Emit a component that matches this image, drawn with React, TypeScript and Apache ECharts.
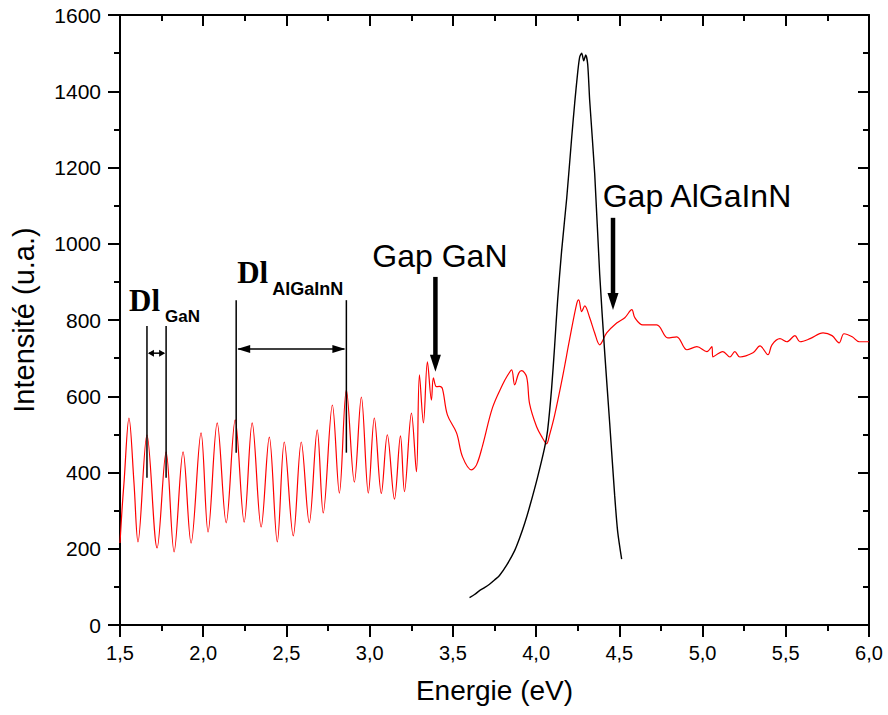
import React, { useEffect, useRef } from "react";
import * as echarts from "echarts";

// Red spectrum (reflectivity-like oscillations), energy in eV / intensity in u.a.
const redEnergy = [
  1.5, 1.512, 1.524, 1.554, 1.584, 1.608, 1.662, 1.723, 1.777, 1.825, 1.879, 1.927,
  1.987, 2.029, 2.084, 2.138, 2.192, 2.246, 2.294, 2.348, 2.397, 2.445, 2.487, 2.541,
  2.589, 2.637, 2.685, 2.721, 2.776, 2.818, 2.86, 2.908, 2.95, 2.992, 3.028, 3.07,
  3.106, 3.149, 3.185, 3.209, 3.251, 3.281, 3.299, 3.323, 3.347, 3.371, 3.383, 3.401,
  3.419, 3.437, 3.467, 3.522, 3.558, 3.612, 3.642, 3.678, 3.738, 3.798, 3.829, 3.853,
  3.871, 3.895, 3.913, 3.943, 3.961, 4.003, 4.039, 4.063, 4.081, 4.111, 4.159, 4.202,
  4.244, 4.256, 4.274, 4.292, 4.322, 4.352, 4.382, 4.424, 4.484, 4.533, 4.575, 4.593,
  4.641, 4.725, 4.791, 4.845, 4.906, 4.966, 5.026, 5.056, 5.062, 5.122, 5.164, 5.194,
  5.224, 5.303, 5.345, 5.393, 5.417, 5.465, 5.507, 5.555, 5.585, 5.646, 5.724, 5.778,
  5.82, 5.85, 5.899, 5.941, 6.0,
];
const redIntensity = [
  215, 302, 373, 543, 373, 218, 499, 202, 454, 192, 454, 215,
  504, 244, 530, 268, 538, 270, 530, 257, 493, 218, 480, 234,
  480, 268, 512, 294, 577, 346, 617, 375, 598, 346, 543, 345,
  499, 330, 496, 350, 556, 402, 656, 530, 690, 590, 648, 625,
  626, 620, 551, 504, 441, 407, 420, 470, 570, 630, 655, 669,
  630, 660, 667, 651, 580, 520, 490, 475, 499, 550, 651, 751,
  843, 853, 822, 837, 806, 766, 735, 766, 792, 806, 827, 806,
  787, 787, 753, 756, 722, 730, 717, 730, 703, 717, 703, 717,
  703, 714, 732, 709, 735, 751, 743, 759, 743, 751, 766, 759,
  740, 764, 756, 743, 743,
];

// Black spectrum (luminescence peak)
const blackEnergy = [
  3.6, 3.63, 3.66, 3.69, 3.72, 3.75, 3.78, 3.823, 3.871, 3.901, 3.931, 3.961, 4.009, 4.051, 4.069, 4.093,
  4.111, 4.129, 4.153, 4.184, 4.214, 4.232, 4.25, 4.262, 4.274, 4.286, 4.298, 4.31,
  4.322, 4.352, 4.382, 4.412, 4.442, 4.472, 4.49, 4.514,
];
const blackIntensity = [
  72, 80, 90, 98, 107, 118, 130, 157, 195, 228, 266, 310, 388, 465, 510, 620,
  730, 850, 980, 1120, 1280, 1370, 1450, 1490, 1500, 1480, 1495, 1470,
  1375, 1184, 920, 715, 530, 340, 245, 173,
];

// Annotation anchors (data space)
const gapArrows = [
  { e: 3.395, from: 913, to: 664 },
  { e: 4.462, from: 1068, to: 826 },
];
const gapLabels = [
  { text: "Gap GaN", e: 3.016, v: 969 },
  { text: "Gap AlGaInN", e: 4.4, v: 1125 },
];
const spacings = [
  { e1: 1.662, e2: 1.777, lo: 386, hi: 784, arrowV: 713, headLen: 6, headHalf: 3.5 },
  { e1: 2.198, e2: 2.86, lo: 452, hi: 852, arrowV: 724, headLen: 13, headHalf: 4 },
];
const spacingLabels = [
  { main: "Dl", sub: "GaN", e: 1.554, v: 850, se: 1.771, sv: 808, subSize: 17 },
  { main: "Dl", sub: "AlGaInN", e: 2.204, v: 925, se: 2.415, sv: 881, subSize: 18 },
];

const xTickLabel = (v: number) => v.toFixed(1).replace(".", ",");
const yTickLabel = (v: number) => String(Math.round(v));
const SANS = "Liberation Sans, Arial, Helvetica, sans-serif";

export default function App() {
  const ref = useRef<HTMLDivElement>(null);
  useEffect(() => {
    if (!ref.current) return;
    const chart = echarts.init(ref.current, undefined, { renderer: "svg" });
    const axisLine = { show: true, onZero: false, lineStyle: { color: "#000", width: 2 } };
    chart.setOption({
      animation: false,
      backgroundColor: "#fff",
      grid: { left: 120, right: 19, top: 15, bottom: 90, containLabel: false },
      xAxis: [
        {
          type: "value",
          min: 1.5,
          max: 6,
          interval: 0.5,
          position: "bottom",
          axisLine,
          axisTick: { show: true, inside: false, length: 12, lineStyle: { color: "#000", width: 2 } },
          minorTick: { show: true, splitNumber: 2, length: 6, lineStyle: { color: "#000", width: 2 } },
          splitLine: { show: false },
          axisLabel: {
            formatter: xTickLabel,
            color: "#000",
            fontSize: 20,
            fontFamily: SANS,
            margin: 18,
          },
          name: "Energie (eV)",
          nameLocation: "middle",
          nameGap: 51,
          nameTextStyle: { color: "#000", fontSize: 28, fontFamily: SANS },
        },
        {
          type: "value",
          min: 1.5,
          max: 6,
          interval: 0.5,
          position: "top",
          axisLine,
          axisTick: { show: true, inside: true, length: 11, lineStyle: { color: "#000", width: 2 } },
          minorTick: { show: true, splitNumber: 2, length: 6, lineStyle: { color: "#000", width: 2 } },
          splitLine: { show: false },
          axisLabel: { show: false },
        },
      ],
      yAxis: [
        {
          type: "value",
          min: 0,
          max: 1600,
          interval: 200,
          position: "left",
          axisLine,
          axisTick: { show: true, inside: false, length: 12, lineStyle: { color: "#000", width: 2 } },
          minorTick: { show: true, splitNumber: 2, length: 6, lineStyle: { color: "#000", width: 2 } },
          splitLine: { show: false },
          axisLabel: { formatter: yTickLabel, color: "#000", fontSize: 21, fontFamily: SANS, margin: 19 },
          name: "Intensité (u.a.)",
          nameLocation: "middle",
          nameGap: 82,
          nameTextStyle: { color: "#000", fontSize: 29, fontFamily: SANS },
        },
        {
          type: "value",
          min: 0,
          max: 1600,
          interval: 200,
          position: "right",
          axisLine,
          axisTick: { show: true, inside: true, length: 11, lineStyle: { color: "#000", width: 2 } },
          minorTick: { show: true, splitNumber: 2, length: 6, lineStyle: { color: "#000", width: 2 } },
          splitLine: { show: false },
          axisLabel: { show: false },
        },
      ],
      series: [
        {
          type: "line",
          name: "red",
          xAxisIndex: 0,
          yAxisIndex: 0,
          data: redEnergy.map((e, i) => [e, redIntensity[i]]),
          showSymbol: false,
          symbol: "none",
          smooth: 0.35,
          lineStyle: { color: "#ff0000", width: 1.2 },
          z: 3,
        },
        {
          type: "line",
          name: "black",
          xAxisIndex: 0,
          yAxisIndex: 0,
          data: blackEnergy.map((e, i) => [e, blackIntensity[i]]),
          showSymbol: false,
          symbol: "none",
          smooth: 0.25,
          lineStyle: { color: "#000", width: 1.4 },
          z: 4,
        },
      ],
    });

    const px = (e: number, v: number) =>
      chart.convertToPixel({ gridIndex: 0 }, [e, v]) as number[];

    const graphics: any[] = [];
    gapArrows.forEach((a) => {
      const top = px(a.e, a.from);
      const tip = px(a.e, a.to);
      graphics.push({
        type: "line",
        shape: { x1: top[0], y1: top[1], x2: tip[0], y2: tip[1] - 14 },
        style: { stroke: "#000", lineWidth: 4.5 },
        z: 100,
      });
      graphics.push({
        type: "polygon",
        shape: {
          points: [
            [tip[0] - 5.5, tip[1] - 17],
            [tip[0] + 5.5, tip[1] - 17],
            [tip[0], tip[1]],
          ],
        },
        style: { fill: "#000" },
        z: 100,
      });
    });
    gapLabels.forEach((l) => {
      const p = px(l.e, l.v);
      graphics.push({
        type: "text",
        x: p[0],
        y: p[1],
        style: {
          text: l.text,
          fontSize: 32,
          fontFamily: SANS,
          fill: "#000",
          align: "left",
          verticalAlign: "middle",
        },
        z: 100,
      });
    });
    spacings.forEach((s) => {
      const a1 = px(s.e1, s.lo);
      const b1 = px(s.e1, s.hi);
      const a2 = px(s.e2, s.lo);
      const b2 = px(s.e2, s.hi);
      graphics.push({
        type: "line",
        shape: { x1: a1[0], y1: a1[1], x2: b1[0], y2: b1[1] },
        style: { stroke: "#000", lineWidth: 1.5 },
        z: 100,
      });
      graphics.push({
        type: "line",
        shape: { x1: a2[0], y1: a2[1], x2: b2[0], y2: b2[1] },
        style: { stroke: "#000", lineWidth: 1.5 },
        z: 100,
      });
      const l = px(s.e1, s.arrowV);
      const r = px(s.e2, s.arrowV);
      graphics.push({
        type: "line",
        shape: { x1: l[0] + 2, y1: l[1], x2: r[0] - 2, y2: r[1] },
        style: { stroke: "#000", lineWidth: 1.5 },
        z: 100,
      });
      graphics.push({
        type: "polygon",
        shape: {
          points: [
            [l[0] + 1, l[1]],
            [l[0] + 1 + s.headLen, l[1] - s.headHalf],
            [l[0] + 1 + s.headLen, l[1] + s.headHalf],
          ],
        },
        style: { fill: "#000" },
        z: 100,
      });
      graphics.push({
        type: "polygon",
        shape: {
          points: [
            [r[0] - 1, r[1]],
            [r[0] - 1 - s.headLen, r[1] - s.headHalf],
            [r[0] - 1 - s.headLen, r[1] + s.headHalf],
          ],
        },
        style: { fill: "#000" },
        z: 100,
      });
    });
    spacingLabels.forEach((s) => {
      const p = px(s.e, s.v);
      const q = px(s.se, s.sv);
      graphics.push({
        type: "text",
        x: p[0],
        y: p[1],
        style: {
          text: s.main,
          fontSize: 31,
          fontWeight: "bold",
          fontFamily: "Liberation Serif, Times New Roman, serif",
          fill: "#000",
          align: "left",
          verticalAlign: "middle",
        },
        z: 100,
      });
      graphics.push({
        type: "text",
        x: q[0],
        y: q[1],
        style: {
          text: s.sub,
          fontSize: s.subSize,
          fontWeight: "bold",
          fontFamily: SANS,
          fill: "#000",
          align: "left",
          verticalAlign: "middle",
        },
        z: 100,
      });
    });
    chart.setOption({ graphic: graphics });

    return () => chart.dispose();
  }, []);

  return (
    <div
      ref={ref}
      style={{ position: "absolute", left: 0, top: 0, width: 888, height: 715, background: "#fff" }}
    />
  );
}
